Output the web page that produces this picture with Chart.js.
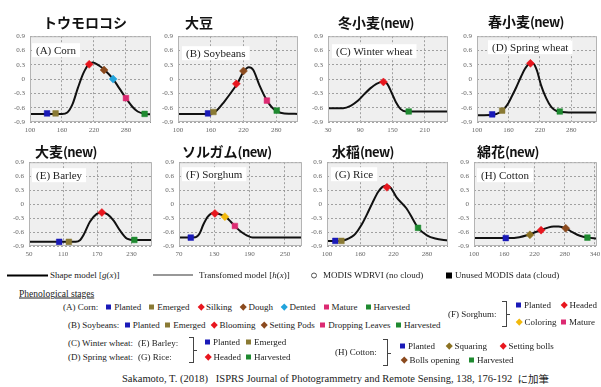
<!DOCTYPE html>
<html>
<head>
<meta charset="utf-8">
<script src="https://cdn.jsdelivr.net/npm/chart.js@4.4.0/dist/chart.umd.min.js"></script>
<style>
  html, body { margin: 0; padding: 0; background: #fff; }
  #page { position: relative; width: 601px; height: 387px; overflow: hidden;
    font-family: "Liberation Serif", "DejaVu Serif", serif; color: #222; }
  #page canvas { position: absolute; }
  .ttl { position: absolute; transform: translateY(-50%); white-space: nowrap;
    font-family: "Noto Sans CJK JP", sans-serif; font-weight: bold; font-size: 14px; line-height: 16px; color: #111; }
  .ttl span { font-size: 13px; letter-spacing: -0.6px; }
  .lg, .row { position: absolute; transform: translateY(-50%); white-space: nowrap;
    display: flex; align-items: center; font-size: 9px; line-height: 11px; }
  .row > span { display: flex; align-items: center; }
  .mk { display: inline-block; width: 5px; height: 5px; margin-right: 3px; }
  .dm { width: 4.5px; height: 4.5px; transform: rotate(45deg); margin: 0 3px 0 1px; }
  .brace { position: absolute; width: 4px; border: 1px solid #444; border-left: none; }
  .brace i { position: absolute; top: 50%; left: 4px; width: 4px; height: 1px; background: #444; }
</style>
</head>
<body>
<div id="page"></div>
<script>
// ---- values: day of year vs. WDRVI ----
// (A) corn
const cornDays = [100, 130, 160, 170, 180, 190, 200, 210, 218, 230, 240, 256, 268, 280, 292, 302, 315, 327];
const cornWdrvi = [-0.73, -0.73, -0.73, -0.70, -0.52, -0.18, 0.12, 0.31, 0.35, 0.28, 0.19, 0.0, -0.20, -0.40, -0.58, -0.68, -0.73, -0.74];
const cornStages = ["Planted", "Emerged", "Silking", "Dough", "Dented", "Mature", "Harvested"];
const cornStageDays = [132, 148, 211, 239, 256, 280, 315];
const cornStageVals = [-0.72, -0.72, 0.31, 0.19, 0.0, -0.40, -0.73];
const cornTicks = [100, 160, 220, 280];

// (B) soybeans
const soyDays = [100, 160, 170, 185, 200, 210, 220, 230, 238, 249, 263, 272, 281, 295, 320];
const soyWdrvi = [-0.73, -0.73, -0.67, -0.47, -0.24, -0.07, 0.15, 0.25, 0.19, -0.12, -0.45, -0.59, -0.67, -0.72, -0.73];
const soyStages = ["Planted", "Emerged", "Blooming", "Setting Pods", "Dropping Leaves", "Harvested"];
const soyStageDays = [155, 165, 207, 220, 263, 281];
const soyStageVals = [-0.72, -0.69, -0.10, 0.17, -0.45, -0.66];
const soyTicks = [100, 160, 220, 280];

// (C) winter wheat
const wwDays = [30, 58, 72, 86, 97, 108, 120, 133, 140, 148, 156, 165, 175, 190, 253];
const wwWdrvi = [-0.61, -0.61, -0.56, -0.45, -0.32, -0.20, -0.10, -0.05, -0.10, -0.28, -0.48, -0.63, -0.68, -0.68, -0.68];
const wwStages = ["Headed", "Harvested"];
const wwStageDays = [133, 180];
const wwStageVals = [-0.06, -0.68];
const wwTicks = [30, 90, 150, 210];

// (D) spring wheat
const swDays = [100, 130, 145, 152, 160, 167, 175, 184, 193, 202, 208, 215, 222, 232, 242, 252, 262, 275, 329];
const swWdrvi = [-0.76, -0.75, -0.69, -0.62, -0.50, -0.35, -0.17, 0.05, 0.24, 0.33, 0.32, 0.16, -0.12, -0.40, -0.59, -0.67, -0.69, -0.70, -0.70];
const swStages = ["Planted", "Emerged", "Headed", "Harvested"];
const swStageDays = [129, 148, 202, 258];
const swStageVals = [-0.74, -0.66, 0.33, -0.68];
const swTicks = [100, 160, 220, 280];

// (E) barley
const barDays = [50, 132, 140, 146, 157, 169, 178, 188, 199, 210, 222, 236, 267];
const barWdrvi = [-0.81, -0.81, -0.77, -0.66, -0.38, -0.21, -0.18, -0.22, -0.36, -0.57, -0.74, -0.77, -0.77];
const barStages = ["Planted", "Emerged", "Headed", "Harvested"];
const barStageDays = [103, 120, 178, 235];
const barStageVals = [-0.81, -0.81, -0.18, -0.77];
const barTicks = [50, 110, 170, 230];

// (F) sorghum
const sorDays = [70, 98, 105, 111, 119, 128, 135, 142, 150, 158, 167, 176, 185, 195, 279];
const sorWdrvi = [-0.72, -0.71, -0.63, -0.45, -0.27, -0.19, -0.20, -0.23, -0.28, -0.38, -0.50, -0.60, -0.67, -0.72, -0.72];
const sorStages = ["Planted", "Headed", "Coloring", "Mature"];
const sorStageDays = [90, 131, 148, 165];
const sorStageVals = [-0.72, -0.20, -0.27, -0.47];
const sorTicks = [70, 130, 190, 250];

// (G) rice
const riceDays = [100, 125, 135, 145, 151, 162, 172, 182, 192, 200, 208, 215, 225, 243, 255, 264, 280, 295, 318];
const riceWdrvi = [-0.79, -0.79, -0.76, -0.70, -0.64, -0.45, -0.22, 0.03, 0.26, 0.37, 0.40, 0.35, 0.15, -0.09, -0.33, -0.51, -0.67, -0.74, -0.78];
const riceStages = ["Planted", "Emerged", "Headed", "Harvested"];
const riceStageDays = [115, 126, 208, 264];
const riceStageVals = [-0.79, -0.79, 0.36, -0.51];
const riceTicks = [100, 160, 220, 280];

// (H) cotton
const cotDays = [100, 170, 190, 205, 220, 233, 245, 258, 268, 282, 295, 310, 325, 344];
const cotWdrvi = [-0.73, -0.73, -0.71, -0.67, -0.61, -0.56, -0.51, -0.48, -0.48, -0.52, -0.60, -0.68, -0.72, -0.74];
const cotStages = ["Planted", "Squaring", "Setting bolls", "Bolls opening", "Harvested"];
const cotStageDays = [163, 211, 233, 282, 325];
const cotStageVals = [-0.73, -0.66, -0.56, -0.52, -0.72];
const cotTicks = [100, 160, 220, 280, 340];

// marker look for each stage (same colours as the legend)
const RED = "#e8161e", BROWN = "#8b4a1e", PINK = "#dc2a72";
const STAGE_STYLE = {
  "Planted": { color: "#1a1ab8", shape: "rect" },
  "Emerged": { color: "#8a7a34", shape: "rect" },
  "Silking": { color: RED, shape: "rectRot" },
  "Blooming": { color: RED, shape: "rectRot" },
  "Headed": { color: RED, shape: "rectRot" },
  "Setting bolls": { color: RED, shape: "rectRot" },
  "Dough": { color: BROWN, shape: "rectRot" },
  "Setting Pods": { color: BROWN, shape: "rectRot" },
  "Bolls opening": { color: BROWN, shape: "rectRot" },
  "Dented": { color: "#22a4dc", shape: "rectRot" },
  "Mature": { color: PINK, shape: "rect" },
  "Dropping Leaves": { color: PINK, shape: "rect" },
  "Harvested": { color: "#1f8a30", shape: "rect" },
  "Coloring": { color: "#f2b90c", shape: "rectRot" },
  "Squaring": { color: "#8c7222", shape: "rectRot" },
};

// panel layout: plot box [left, top, right, bottom] in page pixels
const panels = [
  { title: "トウモロコシ", isNew: false, tx: 43, ty: 22, label: "(A) Corn", lo: [2, 7],
    days: cornDays, vals: cornWdrvi, stages: cornStages, sd: cornStageDays, sv: cornStageVals, ticks: cornTicks,
    xMin: 100, xMax: 327, box: [30, 33, 151, 122] },
  { title: "大豆", isNew: false, tx: 185, ty: 22, label: "(B) Soybeans", lo: [4, 10],
    days: soyDays, vals: soyWdrvi, stages: soyStages, sd: soyStageDays, sv: soyStageVals, ticks: soyTicks,
    xMin: 100, xMax: 320, box: [178, 33, 298, 122] },
  { title: "冬小麦", isNew: true, tx: 338, ty: 22, label: "(C) Winter wheat", lo: [4, 8],
    days: wwDays, vals: wwWdrvi, stages: wwStages, sd: wwStageDays, sv: wwStageVals, ticks: wwTicks,
    xMin: 30, xMax: 253, box: [328, 33, 448, 122] },
  { title: "春小麦", isNew: true, tx: 488, ty: 21, label: "(D) Spring wheat", lo: [11, 4],
    days: swDays, vals: swWdrvi, stages: swStages, sd: swStageDays, sv: swStageVals, ticks: swTicks,
    xMin: 100, xMax: 329, box: [477, 33, 597, 122] },
  { title: "大麦", isNew: true, tx: 35, ty: 151, label: "(E) Barley", lo: [3, 6],
    days: barDays, vals: barWdrvi, stages: barStages, sd: barStageDays, sv: barStageVals, ticks: barTicks,
    xMin: 50, xMax: 266, box: [29, 159, 152, 246] },
  { title: "ソルガム", isNew: true, tx: 182, ty: 151, label: "(F) Sorghum", lo: [3, 5],
    days: sorDays, vals: sorWdrvi, stages: sorStages, sd: sorStageDays, sv: sorStageVals, ticks: sorTicks,
    xMin: 70, xMax: 279, box: [179, 159, 302, 246] },
  { title: "水稲", isNew: true, tx: 332, ty: 151, label: "(G) Rice", lo: [4, 5],
    days: riceDays, vals: riceWdrvi, stages: riceStages, sd: riceStageDays, sv: riceStageVals, ticks: riceTicks,
    xMin: 100, xMax: 318, box: [327, 159, 448, 246] },
  { title: "綿花", isNew: true, tx: 477, ty: 151, label: "(H) Cotton", lo: [3, 6],
    days: cotDays, vals: cotWdrvi, stages: cotStages, sd: cotStageDays, sv: cotStageVals, ticks: cotTicks,
    xMin: 100, xMax: 344, box: [474, 159, 597, 246] },
];

const page = document.getElementById("page");
const PAD_L = 24, PAD_T = 6, PAD_R = 8, PAD_B = 14;

// grey plot background, frame and the white "(A) Corn" style box
const panelDeco = {
  id: "panelDeco",
  beforeDraw(chart) {
    const a = chart.chartArea, c = chart.ctx;
    c.save();
    c.fillStyle = "#efefef";
    c.fillRect(a.left, a.top, a.width, a.height);
    c.restore();
  },
  beforeDatasetsDraw(chart, args, opts) {
    const a = chart.chartArea, c = chart.ctx;
    c.save();
    c.font = '11px "Liberation Serif"';
    const w = c.measureText(opts.text).width + 8;
    c.fillStyle = "#fff";
    c.fillRect(a.left + opts.dx, a.top + opts.dy, w, 14);
    c.fillStyle = "#222";
    c.textBaseline = "middle";
    c.fillText(opts.text, a.left + opts.dx + 4, a.top + opts.dy + 7.5);
    c.restore();
  },
  afterDraw(chart) {
    const a = chart.chartArea, c = chart.ctx;
    c.save();
    c.strokeStyle = "#b4b4b4";
    c.lineWidth = 1;
    c.strokeRect(a.left + 0.5, a.top + 0.5, a.width - 1, a.height - 1);
    c.restore();
  },
};

panels.forEach((p) => {
  const [L, T, R, B] = p.box;
  const cv = document.createElement("canvas");
  cv.width = R - L + PAD_L + PAD_R;
  cv.height = B - T + PAD_T + PAD_B;
  cv.style.left = L - PAD_L + "px";
  cv.style.top = T - PAD_T + "px";
  page.appendChild(cv);

  const t = document.createElement("div");
  t.className = "ttl";
  t.style.left = p.tx + "px";
  t.style.top = p.ty + "px";
  t.innerHTML = p.title + (p.isNew ? "<span>(new)</span>" : "");
  page.appendChild(t);

  const tickFont = { family: "Liberation Serif", size: 7 };
  new Chart(cv.getContext("2d"), {
    type: "line",
    data: {
      datasets: [
        {
          data: p.days.map((d, i) => ({ x: d, y: p.vals[i] })),
          borderColor: "#111",
          borderWidth: 2,
          pointRadius: 0,
          cubicInterpolationMode: "monotone",
          order: 2,
        },
        {
          data: p.sd.map((d, i) => ({ x: d, y: p.sv[i] })),
          showLine: false,
          pointRadius: 4,
          pointStyle: p.stages.map((s) => STAGE_STYLE[s].shape),
          pointBackgroundColor: p.stages.map((s) => STAGE_STYLE[s].color),
          pointBorderColor: p.stages.map((s) => STAGE_STYLE[s].color),
          pointBorderWidth: 0.5,
          order: 1,
        },
      ],
    },
    options: {
      responsive: false,
      animation: false,
      devicePixelRatio: 1,
      layout: { padding: { top: PAD_T, right: PAD_R, left: 0, bottom: 0 } },
      plugins: {
        legend: { display: false },
        tooltip: { enabled: false },
        panelDeco: { text: p.label, dx: p.lo[0], dy: p.lo[1] },
      },
      scales: {
        x: {
          type: "linear",
          min: p.xMin,
          max: p.xMax,
          afterBuildTicks: (axis) => { axis.ticks = p.ticks.map((v) => ({ value: v })); },
          afterFit: (axis) => { axis.height = PAD_B; },
          ticks: { font: tickFont, color: "#666", padding: 4, maxRotation: 0, autoSkip: false },
          grid: { color: "#8c8c8c", lineWidth: 0.8, drawTicks: false },
          border: { display: false, dash: [2, 2] },
        },
        y: {
          min: -0.9,
          max: 0.9,
          afterFit: (axis) => { axis.width = PAD_L; },
          ticks: {
            stepSize: 0.3,
            font: tickFont,
            color: "#666",
            padding: 5,
            callback: (v) => (Math.abs(v) < 1e-9 ? "0" : v.toFixed(1)),
          },
          grid: { color: "#8c8c8c", lineWidth: 0.8, drawTicks: false },
          border: { display: false, dash: [2, 2] },
        },
      },
    },
    plugins: [panelDeco],
  });
});

// ---- legend and source line ----
function put(x, y, html, cls) {
  const d = document.createElement("div");
  d.className = cls || "lg";
  d.style.left = x + "px";
  d.style.top = y + "px";
  d.innerHTML = html;
  page.appendChild(d);
  return d;
}
function marker(stage) {
  const s = STAGE_STYLE[stage];
  const m = document.createElement("span");
  m.className = "mk" + (s.shape === "rectRot" ? " dm" : "");
  m.style.background = s.color;
  return m;
}
function item(x, y, stage, text) {
  const d = put(x, y, "");
  d.appendChild(marker(stage));
  d.appendChild(document.createTextNode(text));
}
function row(x, y, label, entries, gap) {
  const d = put(x, y, "", "row");
  d.style.gap = gap + "px";
  const l = document.createElement("span");
  l.textContent = label;
  d.appendChild(l);
  entries.forEach((st) => {
    const sp = document.createElement("span");
    sp.appendChild(marker(st));
    sp.appendChild(document.createTextNode(st));
    d.appendChild(sp);
  });
}
function brace(x, y, h) {
  const b = document.createElement("div");
  b.className = "brace";
  b.style.left = x + "px";
  b.style.top = y + "px";
  b.style.height = h + "px";
  b.innerHTML = "<i></i>";
  page.appendChild(b);
}

// line / symbol key
put(7, 275, '<span style="display:inline-block;width:41px;height:2px;background:#000;margin-right:2px"></span>Shape model [<i>g</i>(<i>x</i>)]');
put(153, 275, '<span style="display:inline-block;width:40px;height:1px;background:#333;margin-right:6px"></span>Transfomed model [<i>h</i>(<i>x</i>)]');
put(311, 275, '<span style="display:inline-block;width:4px;height:4px;border:1px solid #555;border-radius:50%;margin-right:6px"></span>MODIS WDRVI (no cloud)');
put(446, 275, '<span style="display:inline-block;width:6px;height:6px;background:#000;margin-right:3px"></span>Unused MODIS data (cloud)');

put(19, 294, '<span style="text-decoration:underline;font-size:9.5px">Phenological stages</span>');

row(63, 307, "(A) Corn:", cornStages, 8);
row(68, 325, "(B) Soybeans:", soyStages, 5.5);

put(68, 343, "(C) Winter wheat:");
put(138, 343, "(E) Barley:");
put(68, 357, "(D) Spring wheat:");
put(138, 357, "(G) Rice:");
brace(189, 337, 24);
item(205, 342, "Planted", "Planted");
item(246, 342, "Emerged", "Emerged");
item(205, 357, "Headed", "Headed");
item(246, 357, "Harvested", "Harvested");

put(448, 314, "(F) Sorghum:");
brace(502, 301, 24);
item(516, 305, "Planted", "Planted");
item(561, 305, "Headed", "Headed");
item(516, 322, "Coloring", "Coloring");
item(561, 322, "Mature", "Mature");

put(335, 352, "(H) Cotton:");
brace(383, 339, 25);
item(400, 346, "Planted", "Planted");
item(446, 346, "Squaring", "Squaring");
item(500, 346, "Setting bolls", "Setting bolls");
item(401, 360, "Bolls opening", "Bolls opening");
item(469, 360, "Harvested", "Harvested");

put(122, 378, 'Sakamoto, T. (2018)&nbsp;&nbsp; ISPRS Journal of Photogrammetry and Remote Sensing, 138, 176-192&nbsp;&nbsp; <span style="font-family:\'Noto Sans CJK JP\'">に加筆</span>').style.fontSize = "10.5px";
</script>
</body>
</html>
